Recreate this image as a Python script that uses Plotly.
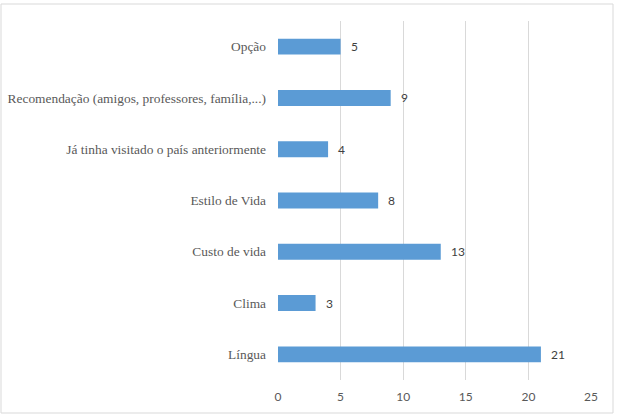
import plotly.graph_objects as go

categories = ["Língua", "Clima", "Custo de vida", "Estilo de Vida",
              "Já tinha visitado o país anteriormente",
              "Recomendação (amigos, professores, família,...)", "Opção"]
values = [21, 3, 13, 8, 4, 9, 5]
x_ticks = [0, 5, 10, 15, 20, 25]

W, H = 617, 416
L, R, T, B = 278, 26, 21, 36

fig = go.Figure(go.Bar(
    y=categories, x=values, orientation="h",
    marker=dict(color="#5B9BD5", line=dict(width=0)),
    width=0.31, hoverinfo="skip",
))

for c, v in zip(categories, values):
    fig.add_annotation(x=v, y=c, text=str(v), showarrow=False,
                       xanchor="left", xshift=8,
                       font=dict(family="Lato", size=12, color="#404040"))

pw = W - L - R
ph = H - T - B
def px2x(p):
    return (p - L) / pw
def py2y(p):
    return 1 - (p - T) / ph

fig.add_shape(type="rect", xref="paper", yref="paper",
              x0=px2x(1), x1=px2x(613), y0=py2y(413), y1=py2y(4),
              line=dict(color="#d9d9d9", width=1), fillcolor="rgba(0,0,0,0)", layer="below")

fig.update_layout(
    width=W, height=H,
    margin=dict(l=L, r=R, t=T, b=B, autoexpand=False),
    paper_bgcolor="white", plot_bgcolor="white",
    showlegend=False,
    xaxis=dict(range=[0, 25], tickvals=x_ticks, showgrid=True, gridcolor="#d9d9d9",
               gridwidth=1, zeroline=False, showline=False, ticks="",
               ticklabelstandoff=8, automargin=False,
               tickfont=dict(family="Lato", size=12, color="#595959")),
    yaxis=dict(categoryorder="array", categoryarray=categories, showgrid=False,
               zeroline=False, showline=False, ticks="", ticklabelstandoff=11,
               automargin=False,
               tickfont=dict(family="Liberation Serif", size=13.4, color="#595959")),
)

fig.write_html("out.html")
